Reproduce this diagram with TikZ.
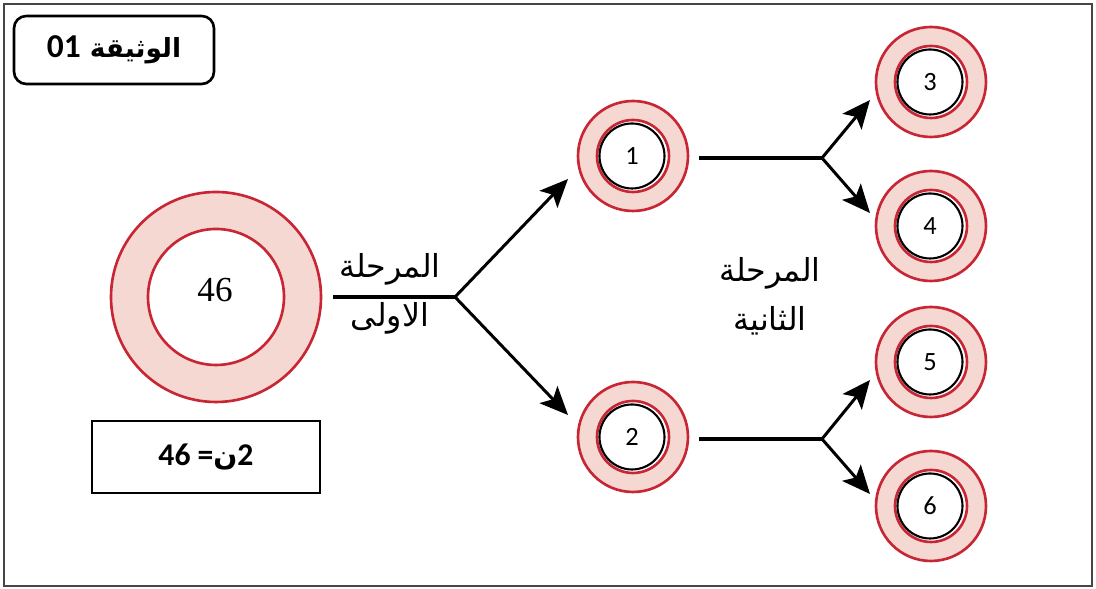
\documentclass[tikz,border=0pt]{standalone}
\usepackage{fontspec}
\usetikzlibrary{arrows.meta}
\setmainfont{Liberation Serif}
\newfontfamily\arabicfont[Script=Arabic]{DejaVu Sans}
\newfontfamily\numfont{Carlito}
\TeXXeTstate=1
\definecolor{ringred}{RGB}{200,38,52}
\definecolor{ringpink}{RGB}{245,216,210}
\definecolor{framegray}{RGB}{70,70,70}

\begin{document}
\begin{tikzpicture}[x=0.01cm, y=-0.01cm,
  every node/.style={outer sep=0pt, inner sep=0pt},
  ring/.style={circle, draw=ringred, fill=ringpink, line width=0.75pt},
  hole/.style={circle, draw=ringred, fill=white, line width=0.75pt},
  core/.style={circle, draw=black, fill=white, line width=0.6pt, font=\numfont\fontsize{7.5}{9}\selectfont},
  trunk/.style={line width=1.15pt, black},
  branch/.style={line width=0.85pt, black, -{Stealth[length=8pt, width=7pt, inset=1.8pt]}},
  stage/.style={font=\arabicfont\small, align=center}]
\useasboundingbox (0,0) rectangle (1096,589);
\draw[framegray, line width=0.6pt] (4,4) rectangle (1092,586);

% title
\node[draw, line width=0.75pt, rounded corners=3.5pt, minimum width=200*0.01cm, minimum height=68*0.01cm] (title) at (114,50)
  {\arabicfont\bfseries\fontsize{7.5}{9}\selectfont\beginR الوثيقة \beginL{\numfont\fontsize{9.5}{11}\selectfont 01}\endL\endR};

% mother cell
\node[ring, minimum size=210*0.01cm] (big) at (216,297) {};
\node[hole, minimum size=136*0.01cm] (bigin) at (216,297) {};
\node (bignum) at (215,290) {46};
\node[draw, line width=0.6pt, minimum width=228*0.01cm, minimum height=72*0.01cm] (count) at (206,457)
  {{\numfont\small\bfseries 46 =}{\arabicfont\bfseries\footnotesize ن}{\numfont\small\bfseries 2}};

% daughter cells
\foreach \name/\px/\py/\lab in {c1/633/156/1, c2/633/437/2, c3/931/82/3, c4/931/226/4, c5/931/362/5, c6/931/506/6}{
  \node[ring, minimum size=110*0.01cm] (\name) at (\px,\py) {};
  \node[hole, minimum size=72*0.01cm] (\name in) at (\px,\py) {};
  \node[core, minimum size=65*0.01cm] (\name core) at (\px-1,\py) {\lab};
}

% first stage
\coordinate (s1) at (333,297);
\coordinate (b1) at (455,297);
\coordinate (t1) at (568,179);
\coordinate (t2) at (568,415);
\draw[trunk] (s1) -- (b1);
\draw[branch] (b1) -- (t1);
\draw[branch] (b1) -- (t2);
\node[stage] (lab1) at (390,294) {\beginR المرحلة\endR\\[3pt]\beginR الاولى\endR};

% second stage
\coordinate (s2) at (699,158);
\coordinate (b2) at (822,158);
\coordinate (t3) at (870,100);
\coordinate (t4) at (870,213);
\draw[trunk] (s2) -- (b2);
\draw[branch] (b2) -- (t3);
\draw[branch] (b2) -- (t4);

\coordinate (s3) at (699,439);
\coordinate (b3) at (822,439);
\coordinate (t5) at (870,380);
\coordinate (t6) at (870,494);
\draw[trunk] (s3) -- (b3);
\draw[branch] (b3) -- (t5);
\draw[branch] (b3) -- (t6);
\node[stage] (lab2) at (770,296) {\beginR المرحلة\endR\\[3pt]\beginR الثانية\endR};
\end{tikzpicture}
\end{document}
